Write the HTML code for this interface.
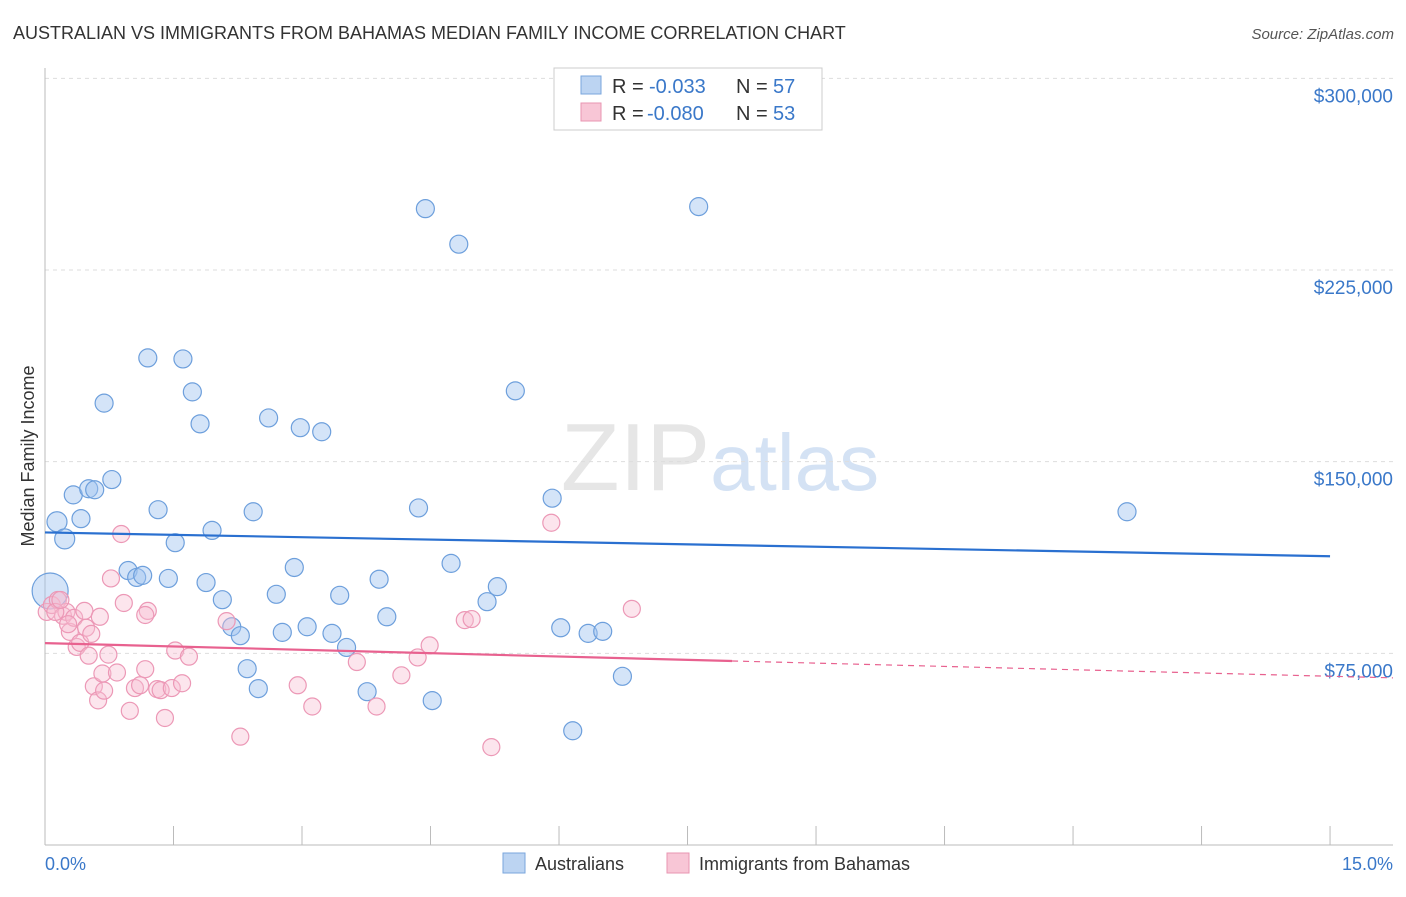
<!DOCTYPE html>
<html><head><meta charset="utf-8"><style>
body{margin:0;background:#fff;font-family:"Liberation Sans",sans-serif}
svg text{font-family:"Liberation Sans",sans-serif}
</style></head><body>
<svg id="chart" width="1406" height="892" viewBox="0 0 1406 892" xmlns="http://www.w3.org/2000/svg">
<text x="13" y="39" font-size="18" fill="#333">AUSTRALIAN VS IMMIGRANTS FROM BAHAMAS MEDIAN FAMILY INCOME CORRELATION CHART</text>
<text x="1394" y="39" font-size="15" fill="#555" text-anchor="end" font-style="italic">Source: ZipAtlas.com</text>
<text x="720" y="490" font-size="96" text-anchor="middle" fill="#e6e6e6" font-family="Liberation Serif">ZIP<tspan fill="#d4e2f4" font-family="Liberation Sans" font-size="80">atlas</tspan></text>
<g id="grid"></g>
<g id="axes"></g>
<g id="pts"></g>
<g id="trend"></g>
<text transform="translate(34,456) rotate(-90)" font-size="18" fill="#333" text-anchor="middle">Median Family Income</text>
<text x="45" y="870" font-size="18" fill="#3a78c9">0.0%</text>
<text x="1393" y="870" font-size="18" fill="#3a78c9" text-anchor="end">15.0%</text>
<g>
<rect x="554" y="68" width="268" height="62" fill="#fff" stroke="#ccc"/>
<rect x="581" y="76" width="20" height="18" fill="#bcd4f2" stroke="#7aa6dc"/>
<rect x="581" y="103" width="20" height="18" fill="#f8c6d6" stroke="#e895b2"/>
<text x="612" y="93" font-size="20" fill="#333">R =</text>
<text x="649" y="93" font-size="20" fill="#3a78c9">-0.033</text>
<text x="736" y="93" font-size="20" fill="#333">N =</text>
<text x="773" y="93" font-size="20" fill="#3a78c9">57</text>
<text x="612" y="120" font-size="20" fill="#333">R =</text>
<text x="647" y="120" font-size="20" fill="#3a78c9">-0.080</text>
<text x="736" y="120" font-size="20" fill="#333">N =</text>
<text x="773" y="120" font-size="20" fill="#3a78c9">53</text>
</g>
<g>
<rect x="503" y="853" width="22" height="20" fill="#bcd4f2" stroke="#7aa6dc"/>
<text x="535" y="870" font-size="18" fill="#333">Australians</text>
<rect x="667" y="853" width="22" height="20" fill="#f8c6d6" stroke="#e895b2"/>
<text x="699" y="870" font-size="18" fill="#333">Immigrants from Bahamas</text>
</g>
</svg>
<script>
const yTicks=[75000,150000,225000,300000];
const yTickLabels=["$75,000","$150,000","$225,000","$300,000"];
const xTicks=[0,1.5,3,4.5,6,7.5,9,10.5,12,13.5,15];
const blueX=[0.14,0.23,0.33,0.42,0.51,0.58,0.69,0.78,0.97,1.07,1.14,1.2,1.32,1.44,1.52,1.61,1.81,1.72,1.88,1.95,2.07,2.18,2.28,2.36,2.43,2.49,2.61,2.7,2.77,2.91,2.98,3.06,3.23,3.35,3.44,3.52,3.76,3.9,3.99,4.36,4.44,4.52,4.74,4.83,5.16,5.28,5.49,5.92,6.02,6.16,6.34,6.51,6.74,7.63,12.63,0.06];
const blueY=[126500,119800,137000,127700,139400,139000,172900,143000,107400,104700,105500,190600,131200,104300,118300,190200,164800,177300,102700,123100,96000,85400,81900,69000,130400,61200,167100,98100,83200,108600,163300,85400,161700,82800,97700,77300,60000,104000,89300,131900,249000,56500,110200,235100,95200,101100,177700,135700,85000,44700,82800,83600,66000,249800,130400,99400];
const blueR=[10,10,9,9,9,9,9,9,9,9,9,9,9,9,9,9,9,9,9,9,9,9,9,9,9,9,9,9,9,9,9,9,9,9,9,9,9,9,9,9,9,9,9,9,9,9,9,9,9,9,9,9,9,9,9,18];
const pinkX=[0.02,0.08,0.15,0.21,0.25,0.29,0.34,0.37,0.41,0.46,0.48,0.51,0.54,0.57,0.62,0.67,0.69,0.74,0.77,0.84,0.89,0.92,0.99,1.05,1.11,1.17,1.2,1.17,1.31,1.35,1.4,1.48,1.52,1.6,1.68,2.12,2.28,2.95,3.12,3.64,3.87,4.16,4.35,4.49,4.9,4.98,5.21,5.91,6.85,0.12,0.18,0.64,0.27];
const pinkY=[91200,93900,95900,89700,91200,83400,88900,77500,79100,91600,85000,74100,82600,62100,56600,67100,60400,74500,104300,67500,121700,94700,52500,61400,62500,68800,91600,90000,61000,60600,49700,61400,76100,63300,73700,87600,42400,62500,54200,71600,54200,66400,73400,78100,88000,88400,38300,126100,92400,91200,95900,89300,86400];
const X=v=>45+v*85.67, Y=v=>845-v/391.3;
const NS="http://www.w3.org/2000/svg";
function mk(tag,attrs,parent){const e=document.createElementNS(NS,tag);for(const k in attrs)e.setAttribute(k,attrs[k]);parent.appendChild(e);return e;}
const grid=document.getElementById('grid'),axes=document.getElementById('axes'),pts=document.getElementById('pts'),trend=document.getElementById('trend');
yTicks.forEach((t,i)=>{
  const l=mk('line',{x1:45,x2:1393,y1:Y(t),y2:Y(t),stroke:'#ddd','stroke-dasharray':'4,4'},grid);
  
  
  const tx=mk('text',{x:1393,y:Y(t)+24,'font-size':19,fill:'#3a78c9','text-anchor':'end'},grid);
  tx.textContent=yTickLabels[i];
  
  
});
const ax=mk('line',{x1:45,x2:1393,y1:845,y2:845,stroke:'#bbb'},axes);


const ay=mk('line',{x1:45,x2:45,y1:68,y2:845,stroke:'#bbb'},axes);


xTicks.forEach(t=>{
  const l=mk('line',{x1:X(t),x2:X(t),y1:826,y2:845,stroke:'#bbb'},axes);
  
  
});
blueX.forEach((x,i)=>{
  const c=mk('circle',{cx:X(x),cy:Y(blueY[i]),r:blueR[i],fill:'rgba(160,195,240,0.45)',stroke:'#6d9fdc','stroke-width':1.2},pts);
  
  
});
pinkX.forEach((x,i)=>{
  const c=mk('circle',{cx:X(x),cy:Y(pinkY[i]),r:8.5,fill:'rgba(248,190,210,0.4)',stroke:'#ec98b6','stroke-width':1.2},pts);
  
  
});
const bl=mk('line',{x1:X(0),y1:Y(122300),x2:X(15),y2:Y(113000),stroke:'#2a70d0','stroke-width':2.2},trend);


const pl=mk('line',{x1:X(0),y1:Y(79000),x2:X(8.02),y2:Y(72000),stroke:'#e8618f','stroke-width':2.2},trend);


const pd=mk('line',{x1:X(8.02),y1:Y(72000),x2:1393,y2:Y(65400),stroke:'#e8618f','stroke-width':1.2,'stroke-dasharray':'6,5'},trend);


</script>
</body></html>
